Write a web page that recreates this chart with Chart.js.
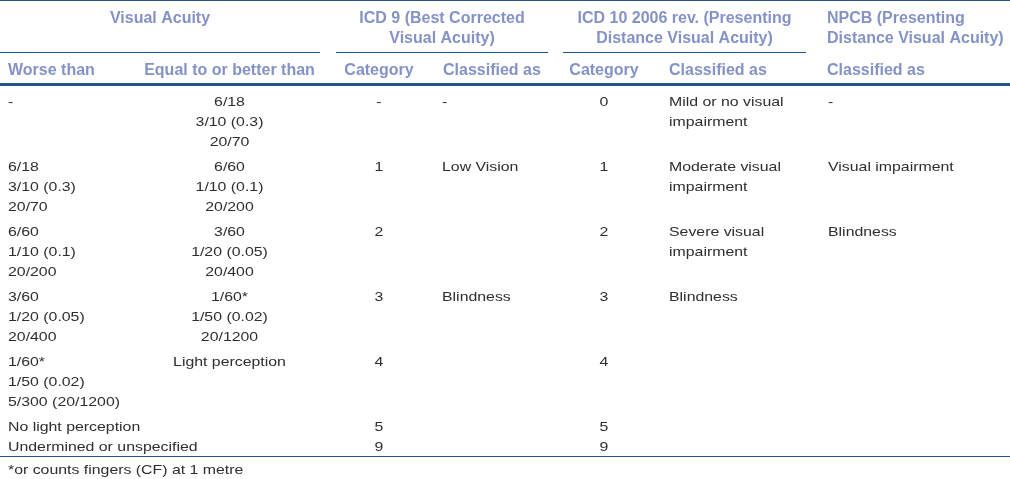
<!DOCTYPE html>
<html>
<head>
<meta charset="utf-8">
<script src="https://cdn.jsdelivr.net/npm/chart.js@4/dist/chart.umd.min.js"></script>
<style>
  html, body { margin: 0; padding: 0; background: #ffffff; }
  #table { display: block; }
</style>
</head>
<body>
<canvas id="table" width="1010" height="479"></canvas>
<script>
// Table content (one entry per row, each cell is a list of text lines)
const groupHeaders = [
    ["Visual Acuity"],
    ["ICD 9 (Best Corrected", "Visual Acuity)"],
    ["ICD 10 2006 rev. (Presenting", "Distance Visual Acuity)"],
    ["NPCB (Presenting", "Distance Visual Acuity)"],
];
const subHeaders = ["Worse than", "Equal to or better than", "Category", "Classified as", "Category", "Classified as", "Classified as"];

const worseThan = [
    ["-"],
    ["6/18", "3/10 (0.3)", "20/70"],
    ["6/60", "1/10 (0.1)", "20/200"],
    ["3/60", "1/20 (0.05)", "20/400"],
    ["1/60*", "1/50 (0.02)", "5/300 (20/1200)"],
    ["No light perception", "Undermined or unspecified"],
];
const betterThan = [
    ["6/18", "3/10 (0.3)", "20/70"],
    ["6/60", "1/10 (0.1)", "20/200"],
    ["3/60", "1/20 (0.05)", "20/400"],
    ["1/60*", "1/50 (0.02)", "20/1200"],
    ["Light perception"],
    [],
];
const icd9Category = [["-"], ["1"], ["2"], ["3"], ["4"], ["5", "9"]];
const icd9Class = [["-"], ["Low Vision"], [], ["Blindness"], [], []];
const icd10Category = [["0"], ["1"], ["2"], ["3"], ["4"], ["5", "9"]];
const icd10Class = [
    ["Mild or no visual", "impairment"],
    ["Moderate visual", "impairment"],
    ["Severe visual", "impairment"],
    ["Blindness"],
    [],
    [],
];
const npcbClass = [["-"], ["Visual impairment"], ["Blindness"], [], [], []];
const footnote = "*or counts fingers (CF) at 1 metre";

// Layout (in scale units, the scales span the whole canvas)
const W = 1010, H = 479;
const bodyCols = [
    { cells: worseThan, x: 8, align: "left" },
    { cells: betterThan, x: 229.5, align: "center" },
    { cells: icd9Category, x: 379, align: "center" },
    { cells: icd9Class, x: 442, align: "left" },
    { cells: icd10Category, x: 604, align: "center" },
    { cells: icd10Class, x: 669, align: "left" },
    { cells: npcbClass, x: 828, align: "left" },
];
const subHeaderPos = [
    { x: 8, align: "left" },
    { x: 229.5, align: "center" },
    { x: 379, align: "center" },
    { x: 443, align: "left" },
    { x: 604, align: "center" },
    { x: 669, align: "left" },
    { x: 827, align: "left" },
];
const groupSpans = [[0, 320], [336, 548], [563, 806], null];
const groupAlign = [null, null, null, { x: 827, align: "left" }];

const headColor = "#8492c6";
const textColor = "#2e2e2e";
const ruleColor = "#24548a";
const lineH = 20, rowGap = 5, firstBaseline = 105.5;
const stretch = 1.22; // body text in the picture is a bit wide

const tablePlugin = {
    id: "tableDraw",
    afterDraw(chart) {
        const ctx = chart.ctx;
        const sx = chart.scales.x, sy = chart.scales.y;
        const px = v => sx.getPixelForValue(v);
        const py = v => sy.getPixelForValue(v);

        const rule = (x0, x1, y, w) => {
            ctx.save();
            ctx.strokeStyle = ruleColor;
            ctx.lineWidth = w;
            ctx.beginPath();
            ctx.moveTo(px(x0), py(y));
            ctx.lineTo(px(x1), py(y));
            ctx.stroke();
            ctx.restore();
        };
        const head = (str, x, y, align) => {
            ctx.save();
            ctx.font = "bold 16px 'Liberation Sans', Arial, sans-serif";
            ctx.fillStyle = headColor;
            ctx.textAlign = align;
            ctx.textBaseline = "alphabetic";
            ctx.fillText(str, px(x), py(y));
            ctx.restore();
        };
        const body = (str, x, y, align) => {
            ctx.save();
            ctx.translate(px(x), py(y));
            ctx.scale(stretch, 1);
            ctx.font = "13px 'Liberation Sans', Arial, sans-serif";
            ctx.fillStyle = textColor;
            ctx.textAlign = align;
            ctx.textBaseline = "alphabetic";
            ctx.fillText(str, 0, 0);
            ctx.restore();
        };

        // rules
        rule(0, W, 0.5, 1);
        groupSpans.forEach(s => { if (s) rule(s[0], s[1], 52.5, 1); });
        rule(0, W, 84.5, 3);
        rule(0, W, 456.5, 1);

        // group headers
        groupHeaders.forEach((lines, i) => {
            const s = groupSpans[i];
            const x = s ? (s[0] + s[1]) / 2 : groupAlign[i].x;
            const align = s ? "center" : groupAlign[i].align;
            lines.forEach((t, k) => head(t, x, 23 + k * 20, align));
        });

        // sub headers
        subHeaders.forEach((t, i) => head(t, subHeaderPos[i].x, 75, subHeaderPos[i].align));

        // body rows
        let base = firstBaseline;
        const nRows = worseThan.length;
        for (let r = 0; r < nRows; r++) {
            let maxLines = 1;
            bodyCols.forEach(c => {
                const lines = c.cells[r];
                lines.forEach((t, k) => body(t, c.x, base + k * lineH, c.align));
                maxLines = Math.max(maxLines, lines.length);
            });
            base += maxLines * lineH + rowGap;
        }

        // footnote
        body(footnote, 8, 473.5, "left");
    },
};

new Chart(document.getElementById("table"), {
    type: "scatter",
    data: { datasets: [{ data: [] }] },
    plugins: [tablePlugin],
    options: {
        responsive: false,
        animation: false,
        events: [],
        layout: { padding: 0 },
        plugins: { legend: { display: false }, tooltip: { enabled: false } },
        scales: {
            x: { type: "linear", min: 0, max: W, display: false },
            y: { type: "linear", min: 0, max: H, reverse: true, display: false },
        },
    },
});
</script>
</body>
</html>
